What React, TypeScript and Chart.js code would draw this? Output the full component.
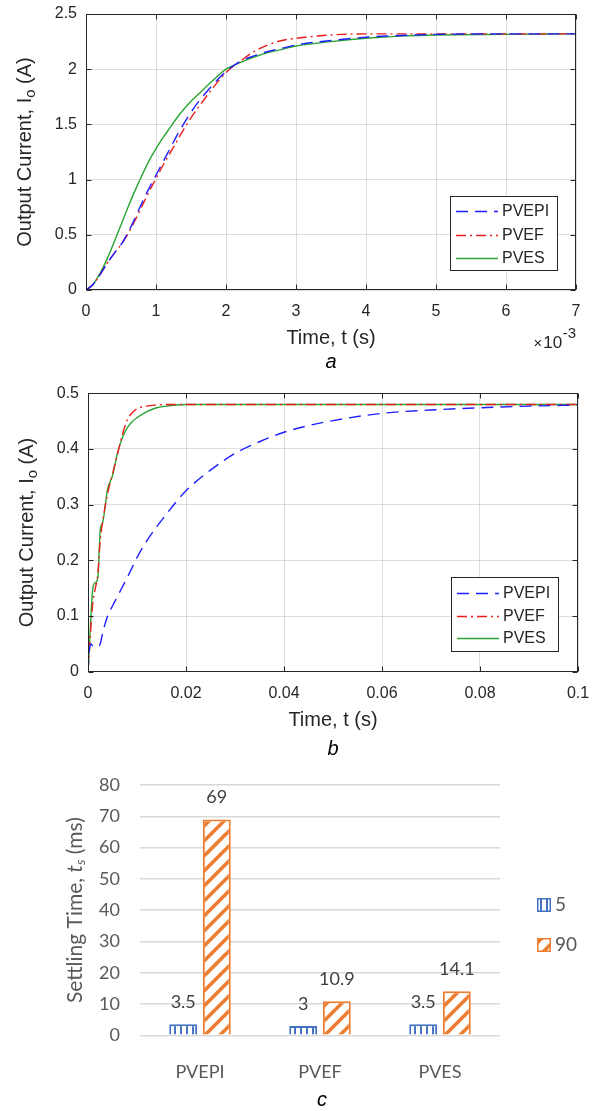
import React, { useEffect, useRef } from "react";
import { Chart, registerables } from "chart.js";

Chart.register(...registerables);

// ---------- Panel a data (time in units of 1e-3 s) ----------
const TIME_A_MS = [0, 0.1, 0.2, 0.3, 0.4, 0.5, 0.6, 0.7, 0.8, 0.9, 1.0, 1.1, 1.2, 1.3, 1.4, 1.5, 1.6, 1.8, 2.0, 2.2, 2.4, 2.6, 2.8, 3.0, 3.5, 4.0, 4.5, 5.0, 6.0, 7.0];
const A_PVEPI = [0, 0.05, 0.14, 0.24, 0.33, 0.41, 0.52, 0.65, 0.79, 0.92, 1.04, 1.16, 1.28, 1.4, 1.51, 1.61, 1.7, 1.85, 1.98, 2.07, 2.12, 2.16, 2.19, 2.22, 2.26, 2.29, 2.305, 2.315, 2.32, 2.32];
const A_PVEF = [0, 0.05, 0.14, 0.24, 0.33, 0.41, 0.51, 0.63, 0.76, 0.89, 1.01, 1.13, 1.24, 1.35, 1.46, 1.56, 1.65, 1.82, 1.97, 2.07, 2.16, 2.22, 2.26, 2.28, 2.31, 2.32, 2.32, 2.32, 2.32, 2.32];
const A_PVES = [0, 0.05, 0.15, 0.28, 0.43, 0.59, 0.75, 0.9, 1.04, 1.17, 1.28, 1.38, 1.47, 1.56, 1.64, 1.71, 1.77, 1.89, 2.0, 2.06, 2.11, 2.15, 2.18, 2.21, 2.25, 2.28, 2.3, 2.31, 2.315, 2.32];
const A_X_TICKS = [0, 1, 2, 3, 4, 5, 6, 7];
const A_Y_TICKS = [0, 0.5, 1, 1.5, 2, 2.5];

// ---------- Panel b data (time in s) ----------
const TIME_B = [0, 0.0003, 0.0006, 0.001, 0.0015, 0.002, 0.0025, 0.003, 0.004, 0.005, 0.006, 0.007, 0.008, 0.009, 0.01, 0.012, 0.014, 0.016, 0.018, 0.02, 0.025, 0.03, 0.035, 0.04, 0.045, 0.05, 0.06, 0.07, 0.08, 0.09, 0.1];
const B_PVEPI = [0, 0.04, 0.05, 0.046, 0.045, 0.045, 0.05, 0.07, 0.1, 0.118, 0.135, 0.152, 0.169, 0.187, 0.205, 0.235, 0.26, 0.283, 0.305, 0.325, 0.362, 0.392, 0.413, 0.43, 0.442, 0.451, 0.464, 0.47, 0.474, 0.477, 0.479];
const B_PVEF = [0, 0.04, 0.08, 0.125, 0.15, 0.175, 0.235, 0.27, 0.32, 0.355, 0.39, 0.425, 0.452, 0.465, 0.472, 0.477, 0.479, 0.48, 0.48, 0.48, 0.48, 0.48, 0.48, 0.48, 0.48, 0.48, 0.48, 0.48, 0.48, 0.48, 0.48];
const B_PVES = [0, 0.05, 0.1, 0.15, 0.16, 0.168, 0.255, 0.268, 0.328, 0.352, 0.392, 0.42, 0.438, 0.449, 0.456, 0.467, 0.474, 0.477, 0.479, 0.48, 0.48, 0.48, 0.48, 0.48, 0.48, 0.48, 0.48, 0.48, 0.48, 0.48, 0.48];
const B_X_TICKS = [0, 0.02, 0.04, 0.06, 0.08, 0.1];
const B_Y_TICKS = [0, 0.1, 0.2, 0.3, 0.4, 0.5];

const SERIES_NAMES = ["PVEPI", "PVEF", "PVES"];

// ---------- Panel c data ----------
const CATEGORIES = ["PVEPI", "PVEF", "PVES"];
const BAR_SERIES_NAMES = ["5", "90"];
const SETTLE_5 = [3.5, 3, 3.5];
const SETTLE_90 = [69, 10.9, 14.1];
const C_Y_TICKS = [0, 10, 20, 30, 40, 50, 60, 70, 80];

// ---------- styles ----------
const ARIAL = '"Liberation Sans", Arial, Helvetica, sans-serif';
const LATO = 'Lato, "Open Sans", sans-serif';
const AX = "#262626";
const GRID = "rgba(0,0,0,0.13)";
const BLUE = "rgb(30,30,255)";
const RED = "rgb(235,30,30)";
const GREEN = "rgb(40,165,50)";
const XL_BLUE = "#4472C4";
const XL_ORANGE = "#ED7D31";

const fmt = (v: number) => String(Number(Number(v).toFixed(6)));

function drawRotatedParts(ctx: CanvasRenderingContext2D, cx: number, cy: number, color: string, parts: { text: string; font: string; dy: number }[]) {
  ctx.save();
  ctx.translate(cx, cy);
  ctx.rotate(-Math.PI / 2);
  ctx.fillStyle = color;
  ctx.textBaseline = "middle";
  ctx.textAlign = "left";
  let total = 0;
  parts.forEach((p) => {
    ctx.font = p.font;
    total += ctx.measureText(p.text).width;
  });
  let x = -total / 2;
  parts.forEach((p) => {
    ctx.font = p.font;
    ctx.fillText(p.text, x, p.dy);
    x += ctx.measureText(p.text).width;
  });
  ctx.restore();
}

type LineDeco = {
  yTitleX: number;
  xTitleY: number;
  captionY: number;
  caption: string;
  multiplier: boolean;
  legend: { x: number; y: number; w: number; h: number; rows: number[] };
};

function makeLineDecoPlugin(d: LineDeco) {
  return {
    id: "lineDeco",
    afterDraw(chart: any) {
      const ctx: CanvasRenderingContext2D = chart.ctx;
      const a = chart.chartArea;
      const xs = chart.scales.x;
      const ys = chart.scales.y;
      ctx.save();
      // box
      ctx.strokeStyle = AX;
      ctx.lineWidth = 1;
      const L = Math.round(a.left) + 0.5, R = Math.round(a.right) - 0.5, T = Math.round(a.top) + 0.5, B = Math.round(a.bottom) - 0.5;
      ctx.strokeRect(L, T, R - L, B - T);
      // inward ticks
      const tl = 5;
      ctx.beginPath();
      xs.ticks.forEach((t: any) => {
        const px = Math.round(xs.getPixelForValue(t.value)) + 0.5;
        ctx.moveTo(px, B); ctx.lineTo(px, B - tl);
        ctx.moveTo(px, T); ctx.lineTo(px, T + tl);
      });
      ys.ticks.forEach((t: any) => {
        const py = Math.round(ys.getPixelForValue(t.value)) + 0.5;
        ctx.moveTo(L, py); ctx.lineTo(L + tl, py);
        ctx.moveTo(R, py); ctx.lineTo(R - tl, py);
      });
      ctx.stroke();
      // y title
      const cy = (a.top + a.bottom) / 2;
      drawRotatedParts(ctx, d.yTitleX, cy, AX, [
        { text: "Output Current, I", font: `20px ${ARIAL}`, dy: 0 },
        { text: "o", font: `15px ${ARIAL}`, dy: 6 },
        { text: " (A)", font: `20px ${ARIAL}`, dy: 0 },
      ]);
      const cx = (a.left + a.right) / 2;
      ctx.fillStyle = AX;
      ctx.textBaseline = "middle";
      ctx.textAlign = "center";
      ctx.font = `20px ${ARIAL}`;
      ctx.fillText("Time, t (s)", cx, d.xTitleY);
      ctx.font = `italic 20px ${ARIAL}`;
      ctx.fillStyle = "#000";
      ctx.fillText(d.caption, cx, d.captionY);
      if (d.multiplier) {
        ctx.fillStyle = AX;
        ctx.textAlign = "left";
        ctx.font = `15px ${ARIAL}`;
        const w2 = ctx.measureText("-3").width;
        ctx.fillText("-3", a.right - w2, d.xTitleY - 4);
        ctx.font = `17px ${ARIAL}`;
        ctx.textAlign = "right";
        ctx.fillText("10", a.right - w2 - 0.5, d.xTitleY + 5);
        const w10 = ctx.measureText("10").width;
        ctx.font = `15px ${ARIAL}`;
        ctx.fillText("\u00d7", a.right - w2 - w10 - 1.5, d.xTitleY + 6);
      }
      // legend
      const lg = d.legend;
      ctx.fillStyle = "#fff";
      ctx.fillRect(lg.x, lg.y, lg.w, lg.h);
      ctx.strokeStyle = AX;
      ctx.lineWidth = 1;
      ctx.strokeRect(lg.x + 0.5, lg.y + 0.5, lg.w - 1, lg.h - 1);
      chart.data.datasets.forEach((ds: any, i: number) => {
        const y = lg.rows[i];
        ctx.save();
        ctx.strokeStyle = ds.borderColor;
        ctx.lineWidth = ds.borderWidth;
        ctx.setLineDash(ds.borderDash || []);
        ctx.beginPath();
        ctx.moveTo(lg.x + 6, y + 0.5);
        ctx.lineTo(lg.x + 48, y + 0.5);
        ctx.stroke();
        ctx.restore();
        ctx.fillStyle = AX;
        ctx.font = `16px ${ARIAL}`;
        ctx.textAlign = "left";
        ctx.textBaseline = "middle";
        ctx.fillText(ds.label, lg.x + 52, y + 1);
      });
      ctx.restore();
    },
  };
}

function lineConfig(
  times: number[],
  series: number[][],
  xTicks: number[],
  yTicks: number[],
  box: { top: number; left: number; right: number; bottom: number; width: number; height: number },
  deco: LineDeco
): any {
  const styles = [
    { color: BLUE, dash: [12, 7] },
    { color: RED, dash: [10, 4, 2, 4] },
    { color: GREEN, dash: [] as number[] },
  ];
  return {
    type: "line",
    data: {
      datasets: series.map((vals, i) => ({
        label: SERIES_NAMES[i],
        data: times.map((t, j) => ({ x: t, y: vals[j] })),
        borderColor: styles[i].color,
        borderDash: styles[i].dash,
        borderWidth: 1.4,
        pointRadius: 0,
        cubicInterpolationMode: "monotone",
        fill: false,
      })),
    },
    options: {
      responsive: false,
      animation: false,
      devicePixelRatio: 1,
      layout: { padding: { top: box.top, left: 0, right: box.width - box.right, bottom: 0 } },
      plugins: { legend: { display: false }, tooltip: { enabled: false } },
      scales: {
        x: {
          type: "linear",
          min: xTicks[0],
          max: xTicks[xTicks.length - 1],
          afterBuildTicks: (s: any) => { s.ticks = xTicks.map((v) => ({ value: v })); },
          afterFit: (s: any) => { s.height = box.height - box.bottom; s.paddingLeft = 0; s.paddingRight = 0; },
          grid: { color: GRID, drawTicks: false },
          border: { display: false },
          ticks: { font: { family: ARIAL, size: 16 }, color: AX, padding: 12, maxRotation: 0, autoSkip: false, callback: (v: number) => fmt(v) },
        },
        y: {
          type: "linear",
          min: yTicks[0],
          max: yTicks[yTicks.length - 1],
          afterBuildTicks: (s: any) => { s.ticks = yTicks.map((v) => ({ value: v })); },
          afterFit: (s: any) => { s.width = box.left; s.paddingTop = 0; s.paddingBottom = 0; },
          grid: { color: GRID, drawTicks: false },
          border: { display: false },
          ticks: { font: { family: ARIAL, size: 16 }, color: AX, padding: 9, autoSkip: false, callback: (v: number) => fmt(v) },
        },
      },
    },
    plugins: [makeLineDecoPlugin(deco)],
  };
}

function makePatterns() {
  const bc = document.createElement("canvas");
  bc.width = 6; bc.height = 6;
  const b = bc.getContext("2d")!;
  b.fillStyle = "#fff"; b.fillRect(0, 0, 6, 6);
  b.fillStyle = XL_BLUE; b.fillRect(0, 0, 2, 6);
  const oc = document.createElement("canvas");
  const s = 15;
  oc.width = s; oc.height = s;
  const o = oc.getContext("2d")!;
  o.fillStyle = "#fff"; o.fillRect(0, 0, s, s);
  o.strokeStyle = XL_ORANGE; o.lineWidth = 3.6; o.lineCap = "square";
  o.beginPath();
  o.moveTo(0, s); o.lineTo(s, 0);
  o.moveTo(-s / 2, s / 2); o.lineTo(s / 2, -s / 2);
  o.moveTo(s / 2, s * 1.5); o.lineTo(s * 1.5, s / 2);
  o.stroke();
  const tmp = document.createElement("canvas").getContext("2d")!;
  return { blue: tmp.createPattern(bc, "repeat")!, orange: tmp.createPattern(oc, "repeat")! };
}

function barConfig(): any {
  const pats = makePatterns();
  const W = 601, H = 351;
  const area = { left: 140, right: 500, top: 25, bottom: 275.3 };
  const decoPlugin = {
    id: "barDeco",
    afterDatasetsDraw(chart: any) {
      const ctx: CanvasRenderingContext2D = chart.ctx;
      ctx.save();
      ctx.fillStyle = "#404040";
      ctx.font = `18px ${LATO}`;
      ctx.textAlign = "center";
      ctx.textBaseline = "middle";
      chart.data.datasets.forEach((ds: any, di: number) => {
        const meta = chart.getDatasetMeta(di);
        meta.data.forEach((el: any, i: number) => {
          ctx.fillText(String(ds.data[i]), el.x, el.y - 22);
        });
      });
      ctx.restore();
    },
    afterDraw(chart: any) {
      const ctx: CanvasRenderingContext2D = chart.ctx;
      const a = chart.chartArea;
      ctx.save();
      drawRotatedParts(ctx, 75, (a.top + a.bottom) / 2, "#595959", [
        { text: "Settling Time, ", font: `21px ${LATO}`, dy: 0 },
        { text: "t", font: `italic 21px ${LATO}`, dy: 0 },
        { text: "s", font: `italic 14px ${LATO}`, dy: 5 },
        { text: " (ms)", font: `21px ${LATO}`, dy: 0 },
      ]);
      // legend
      const rows = [145, 185];
      chart.data.datasets.forEach((ds: any, i: number) => {
        const y = rows[i];
        ctx.fillStyle = ds.backgroundColor;
        ctx.fillRect(537, y - 7, 14, 14);
        ctx.strokeStyle = ds.borderColor;
        ctx.lineWidth = 1.5;
        ctx.strokeRect(537.75, y - 6.25, 12.5, 12.5);
        ctx.fillStyle = "#595959";
        ctx.font = `19px ${LATO}`;
        ctx.textAlign = "left";
        ctx.textBaseline = "middle";
        ctx.fillText(ds.label, 555, y);
      });
      ctx.fillStyle = "#000";
      ctx.font = `italic 20px ${ARIAL}`;
      ctx.textAlign = "center";
      ctx.textBaseline = "middle";
      ctx.fillText("c", (a.left + a.right) / 2 + 2, 340);
      ctx.restore();
    },
  };
  return {
    type: "bar",
    data: {
      labels: CATEGORIES,
      datasets: [
        { label: BAR_SERIES_NAMES[0], data: SETTLE_5, backgroundColor: pats.blue, borderColor: XL_BLUE, borderWidth: 2, categoryPercentage: 0.56, barPercentage: 0.83 },
        { label: BAR_SERIES_NAMES[1], data: SETTLE_90, backgroundColor: pats.orange, borderColor: XL_ORANGE, borderWidth: 2, categoryPercentage: 0.56, barPercentage: 0.83 },
      ],
    },
    options: {
      responsive: false,
      animation: false,
      devicePixelRatio: 1,
      layout: { padding: { top: area.top, left: 0, right: W - area.right, bottom: 0 } },
      plugins: { legend: { display: false }, tooltip: { enabled: false } },
      scales: {
        x: {
          afterFit: (s: any) => { s.height = H - area.bottom; s.paddingLeft = 0; s.paddingRight = 0; },
          grid: { display: false },
          border: { display: false },
          ticks: { font: { family: LATO, size: 18 }, color: "#595959", padding: 18 },
        },
        y: {
          min: C_Y_TICKS[0],
          max: C_Y_TICKS[C_Y_TICKS.length - 1],
          afterBuildTicks: (s: any) => { s.ticks = C_Y_TICKS.map((v) => ({ value: v })); },
          afterFit: (s: any) => { s.width = area.left; s.paddingTop = 0; s.paddingBottom = 0; },
          grid: { color: "#d9d9d9", lineWidth: 1.5, drawTicks: false },
          border: { display: false },
          ticks: { font: { family: LATO, size: 18 }, color: "#595959", padding: 20, callback: (v: number) => fmt(v) },
        },
      },
    },
    plugins: [decoPlugin],
  };
}

export default function App() {
  const refA = useRef<HTMLCanvasElement>(null);
  const refB = useRef<HTMLCanvasElement>(null);
  const refC = useRef<HTMLCanvasElement>(null);

  useEffect(() => {
    const charts: Chart[] = [];
    charts.push(
      new Chart(
        refA.current!,
        lineConfig(TIME_A_MS, [A_PVEPI, A_PVEF, A_PVES], A_X_TICKS, A_Y_TICKS,
          { top: 14, left: 86, right: 576, bottom: 290, width: 601, height: 378 },
          { yTitleX: 25, xTitleY: 338, captionY: 362, caption: "a", multiplier: true,
            legend: { x: 450, y: 196, w: 108, h: 75, rows: [211, 235, 258] } })
      )
    );
    charts.push(
      new Chart(
        refB.current!,
        lineConfig(TIME_B, [B_PVEPI, B_PVEF, B_PVES], B_X_TICKS, B_Y_TICKS,
          { top: 15.3, left: 88, right: 578, bottom: 293.7, width: 601, height: 382 },
          { yTitleX: 27, xTitleY: 342, captionY: 371, caption: "b", multiplier: false,
            legend: { x: 451, y: 199, w: 108, h: 75, rows: [215, 238, 260] } })
      )
    );
    charts.push(new Chart(refC.current!, barConfig()));
    return () => charts.forEach((c) => c.destroy());
  }, []);

  return (
    <div style={{ position: "absolute", left: 0, top: 0, width: 601, height: 1111, background: "#fff" }}>
      <canvas ref={refA} width={601} height={378} style={{ position: "absolute", left: 0, top: 0, width: 601, height: 378 }} />
      <canvas ref={refB} width={601} height={382} style={{ position: "absolute", left: 0, top: 378, width: 601, height: 382 }} />
      <canvas ref={refC} width={601} height={351} style={{ position: "absolute", left: 0, top: 760, width: 601, height: 351 }} />
    </div>
  );
}
